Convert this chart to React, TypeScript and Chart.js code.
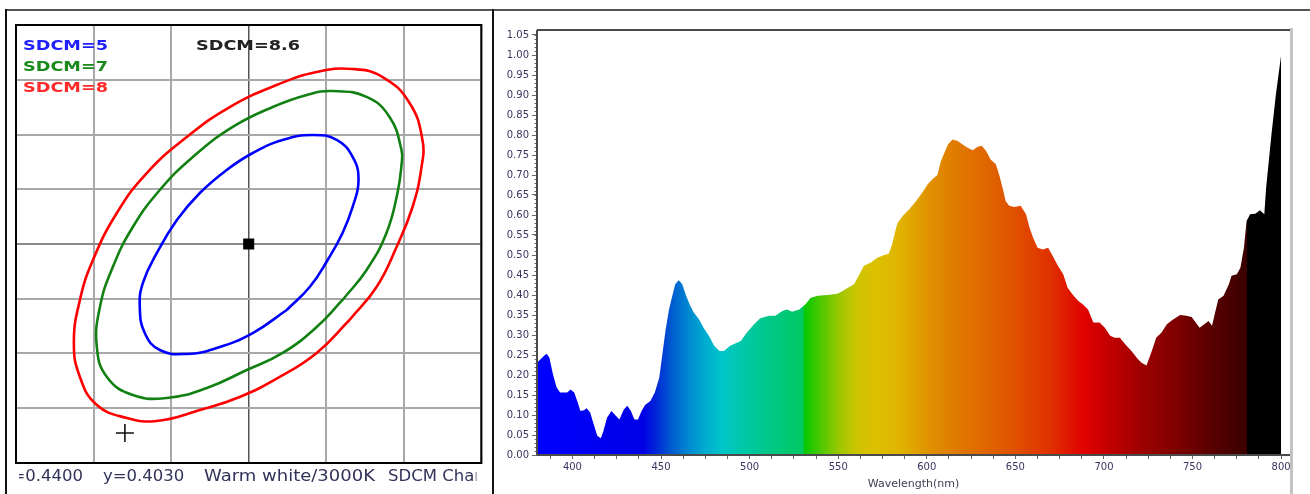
import React, { useEffect, useRef } from 'react';
import { Chart, registerables } from 'chart.js';

Chart.register(...registerables);
Chart.defaults.font.family = '"DejaVu Sans", sans-serif';

// ---------------- SDCM (MacAdam ellipse) panel ----------------
const gridX = [0.425, 0.43, 0.435, 0.44, 0.445, 0.45, 0.455];
const gridY = [0.383, 0.388, 0.393, 0.398, 0.403, 0.408, 0.413, 0.418, 0.423];
const centerX = 0.44;
const centerY = 0.403;
const measuredX = 0.43202;
const measuredY = 0.38574;

// contour points, starting on the lower-right long side
const sdcm5X = [0.44245, 0.44026, 0.43794, 0.43601, 0.43427, 0.4333, 0.43298, 0.43318, 0.43408, 0.43537, 0.43685, 0.43858, 0.44026, 0.44219, 0.44412, 0.44567, 0.4467, 0.44708, 0.4467, 0.44605, 0.44509, 0.44393, 0.44245];
const sdcm5Y = [0.39697, 0.39487, 0.3935, 0.39296, 0.39332, 0.39487, 0.39725, 0.39944, 0.40218, 0.40519, 0.40766, 0.40976, 0.41131, 0.4125, 0.41296, 0.4125, 0.41095, 0.40885, 0.40638, 0.40401, 0.40154, 0.39907, 0.39697];

const sdcm7X = [0.44605, 0.44438, 0.44219, 0.43987, 0.4373, 0.43472, 0.43253, 0.43086, 0.43021, 0.43041, 0.43124, 0.43253, 0.43427, 0.4364, 0.43897, 0.44155, 0.44374, 0.44541, 0.4476, 0.44908, 0.44985, 0.44985, 0.44959, 0.44888, 0.4476, 0.44605];
const sdcm7Y = [0.39789, 0.39542, 0.39305, 0.39149, 0.38985, 0.38894, 0.38921, 0.39086, 0.3936, 0.39725, 0.4009, 0.40455, 0.40793, 0.41095, 0.41369, 0.41551, 0.41661, 0.41697, 0.41643, 0.4146, 0.41159, 0.41022, 0.40766, 0.40401, 0.40063, 0.39789];

const sdcm8X = [0.4465, 0.44438, 0.442, 0.43942, 0.43685, 0.43408, 0.43215, 0.43021, 0.42912, 0.42873, 0.42912, 0.42996, 0.4315, 0.43343, 0.43601, 0.43878, 0.4418, 0.44438, 0.4467, 0.44863, 0.45037, 0.4512, 0.45114, 0.45056, 0.44953, 0.44824, 0.4465];
const sdcm8Y = [0.39606, 0.39305, 0.39086, 0.38903, 0.38784, 0.38684, 0.38711, 0.3883, 0.39086, 0.39396, 0.39789, 0.40154, 0.40583, 0.40948, 0.41277, 0.41551, 0.41752, 0.41871, 0.41898, 0.41825, 0.41588, 0.4125, 0.41003, 0.40638, 0.40273, 0.39907, 0.39606];

const sdcmLabels = ['SDCM=5', 'SDCM=7', 'SDCM=8'];
const measuredLabel = 'SDCM=8.6';
const infoTexts = ['x=0.4400', 'y=0.4030', 'Warm white/3000K', 'SDCM Chart'];

// ---------------- Spectrum panel ----------------
const wavelengths = [380, 381, 384, 385.5, 387, 389, 391, 393, 397, 399, 401, 403, 404.5, 406.5, 408, 410, 412, 414, 416, 417.5, 419.5, 422, 424.5, 426.5, 429, 431, 433, 435, 437, 439, 441, 444, 446.5, 449, 450.5, 452.5, 454.5, 456.5, 458, 460, 462, 464, 466.5, 468.5, 471.5, 474, 477, 480, 483, 485.5, 489, 495, 498.5, 502.5, 506, 511, 514.5, 518.5, 521, 524, 528, 531.5, 534.5, 538.5, 544, 549.5, 552.5, 555.5, 559, 562, 564.5, 568.5, 572, 576, 578.5, 580.5, 582, 583.5, 586.5, 590, 594, 597.5, 600.5, 603, 606, 608, 610, 612, 614.5, 617.5, 620, 623, 626, 628.5, 631, 633.5, 636, 639, 641, 643, 644.5, 646.5, 649.5, 653, 656, 658, 660, 662.5, 665.5, 668.5, 671, 674, 677, 679.5, 682.5, 685.5, 688, 691, 694, 697.5, 700.5, 703.5, 706, 709, 712, 715.5, 718.5, 721, 724, 727, 729.5, 732.5, 735.5, 739, 743, 746.5, 749.5, 752.5, 754, 757, 759, 761, 762.5, 764.5, 767.5, 770.5, 772, 775, 777, 779, 780.5, 782.5, 785.5, 788, 790.5, 791.5, 794.5, 797, 800];
const intensities = [0.23, 0.235, 0.248, 0.253, 0.243, 0.202, 0.17, 0.156, 0.156, 0.164, 0.156, 0.131, 0.11, 0.112, 0.117, 0.106, 0.077, 0.048, 0.042, 0.06, 0.093, 0.11, 0.098, 0.089, 0.114, 0.123, 0.11, 0.089, 0.089, 0.11, 0.125, 0.135, 0.156, 0.193, 0.243, 0.31, 0.364, 0.4, 0.427, 0.437, 0.427, 0.4, 0.373, 0.356, 0.339, 0.318, 0.298, 0.273, 0.26, 0.26, 0.273, 0.285, 0.306, 0.327, 0.342, 0.348, 0.348, 0.36, 0.364, 0.358, 0.364, 0.377, 0.393, 0.398, 0.4, 0.403, 0.41, 0.418, 0.427, 0.452, 0.473, 0.481, 0.493, 0.5, 0.503, 0.527, 0.556, 0.58, 0.598, 0.614, 0.635, 0.656, 0.677, 0.689, 0.7, 0.735, 0.756, 0.777, 0.789, 0.785, 0.777, 0.768, 0.762, 0.77, 0.773, 0.76, 0.739, 0.727, 0.698, 0.664, 0.635, 0.623, 0.62, 0.623, 0.602, 0.568, 0.543, 0.518, 0.514, 0.518, 0.498, 0.473, 0.452, 0.418, 0.4, 0.385, 0.377, 0.364, 0.331, 0.331, 0.318, 0.298, 0.293, 0.293, 0.277, 0.26, 0.243, 0.231, 0.224, 0.26, 0.293, 0.306, 0.327, 0.339, 0.35, 0.348, 0.345, 0.327, 0.318, 0.328, 0.335, 0.323, 0.352, 0.389, 0.398, 0.427, 0.448, 0.452, 0.468, 0.518, 0.585, 0.602, 0.603, 0.612, 0.602, 0.667, 0.8, 0.9, 1.0];

const xTickValues = [387.5, 400, 412.5, 425, 437.5, 450, 462.5, 475, 487.5, 500, 512.5, 525, 537.5, 550, 562.5, 575, 587.5, 600, 612.5, 625, 637.5, 650, 662.5, 675, 687.5, 700, 712.5, 725, 737.5, 750, 762.5, 775, 787.5, 800];
const yTickValues = [0, 0.05, 0.1, 0.15, 0.2, 0.25, 0.3, 0.35, 0.4, 0.45, 0.5, 0.55, 0.6, 0.65, 0.7, 0.75, 0.8, 0.85, 0.9, 0.95, 1.0, 1.05];
const xAxisTitle = 'Wavelength(nm)';

// colour of the fill along wavelength (style)
const gradNm = [380, 440, 447, 455, 465, 475, 485, 495, 510, 530, 531, 540, 550, 560, 570, 585, 600, 615, 630, 650, 670, 685, 690, 700, 720, 740, 760, 780.5, 781, 805];
const gradColors = ['#0000ff', '#0000e6', '#0026d8', '#0056d0', '#0086d0', '#00acd0', '#00c6c8', '#00c8aa', '#00c88a', '#00c862', '#08c800', '#4cc800', '#98c800', '#ccc400', '#dcc000', '#e0b400', '#e09400', '#e07c00', '#e06a00', '#e05000', '#e03000', '#e00a00', '#e00000', '#c80000', '#a00000', '#800000', '#5a0000', '#3a0000', '#000000', '#000000'];

const toPoints = (xs: number[], ys: number[]) => xs.map((x, i) => ({ x, y: ys[i] }));

function fitText(ctx: CanvasRenderingContext2D, text: string, x: number, y: number, width: number, font: string, color: string) {
  ctx.save();
  ctx.font = font;
  ctx.fillStyle = color;
  ctx.textBaseline = 'middle';
  ctx.textAlign = 'left';
  const w = ctx.measureText(text).width;
  ctx.translate(x, y);
  ctx.scale(width / w, 1);
  ctx.fillText(text, 0, 0);
  ctx.restore();
}

const sdcmOverlay = {
  id: 'sdcmOverlay',
  afterDraw(chart: any) {
    const { ctx, chartArea: a } = chart;
    ctx.save();
    ctx.strokeStyle = '#000';
    ctx.lineWidth = 2;
    ctx.strokeRect(a.left, a.top, a.right - a.left, a.bottom - a.top);
    const labelColors = ['#1e1eff', '#1a8a1a', '#ff2a2a'];
    const font = 'bold 14px "DejaVu Sans"';
    sdcmLabels.forEach((t, i) => fitText(ctx, t, a.left + 7, a.top + 21 + i * 21, 85, font, labelColors[i]));
    fitText(ctx, measuredLabel, a.left + 180, a.top + 21, 104, font, '#222');
    // info line under the box, clipped at both sides
    ctx.beginPath();
    ctx.rect(a.left + 3, a.bottom + 2, a.right - a.left - 8, 30);
    ctx.clip();
    ctx.fillStyle = '#33335a';
    ctx.font = '16.5px "DejaVu Sans"';
    ctx.textBaseline = 'middle';
    const ty = a.bottom + 14;
    ctx.textAlign = 'right';
    ctx.fillText(infoTexts[0], a.left + 67, ty);
    ctx.textAlign = 'left';
    ctx.fillText(infoTexts[1], a.left + 87, ty);
    fitText(ctx, infoTexts[2], a.left + 188, ty, 171, '16.5px "DejaVu Sans"', '#33335a');
    ctx.fillText(infoTexts[3], a.left + 372, ty);
    ctx.restore();
  },
};

function spectrumGradient(chart: any) {
  const a = chart.chartArea;
  const xs = chart.scales.x;
  if (!a || !xs) return '#0000ff';
  const x0 = xs.getPixelForValue(gradNm[0]);
  const x1 = xs.getPixelForValue(gradNm[gradNm.length - 1]);
  const g = chart.ctx.createLinearGradient(x0, 0, x1, 0);
  gradNm.forEach((nm, i) => {
    const t = (xs.getPixelForValue(nm) - x0) / (x1 - x0);
    g.addColorStop(Math.min(1, Math.max(0, t)), gradColors[i]);
  });
  return g;
}

const spectrumFrame = {
  id: 'spectrumFrame',
  afterDraw(chart: any) {
    const { ctx, chartArea: a } = chart;
    const ys = chart.scales.y;
    ctx.save();
    ctx.strokeStyle = '#6a6a6a';
    ctx.lineWidth = 1;
    for (let i = 0; i <= 105; i++) {
      const py = Math.round(ys.getPixelForValue(i / 100)) + 0.5;
      ctx.beginPath();
      ctx.moveTo(a.left - 2.5, py);
      ctx.lineTo(a.left, py);
      ctx.stroke();
    }
    ctx.strokeStyle = '#c2c2c2';
    ctx.lineWidth = 3;
    ctx.beginPath();
    ctx.moveTo(a.right + 1.5, a.top - 2);
    ctx.lineTo(a.right + 1.5, chart.height);
    ctx.stroke();
    ctx.strokeStyle = '#4a4a4a';
    ctx.lineWidth = 2;
    ctx.beginPath();
    ctx.moveTo(a.left, a.top);
    ctx.lineTo(a.right, a.top);
    ctx.stroke();
    ctx.beginPath();
    ctx.moveTo(a.left, a.top);
    ctx.lineTo(a.left, a.bottom);
    ctx.stroke();
    ctx.beginPath();
    ctx.moveTo(a.left, a.bottom);
    ctx.lineTo(a.right, a.bottom);
    ctx.stroke();
    ctx.restore();
  },
};

export default function App() {
  const leftRef = useRef<HTMLCanvasElement>(null);
  const rightRef = useRef<HTMLCanvasElement>(null);

  useEffect(() => {
    const ellipse = (label: string, xs: number[], ys: number[], color: string) => ({
      label,
      data: toPoints(xs, ys),
      showLine: true,
      borderColor: color,
      backgroundColor: color,
      borderWidth: 2.6,
      pointRadius: 0,
      tension: 0.45,
      fill: false,
    });

    const left = new Chart(leftRef.current as HTMLCanvasElement, {
      type: 'scatter',
      data: {
        datasets: [
          ellipse('SDCM=5', sdcm5X, sdcm5Y, '#0000ff'),
          ellipse('SDCM=7', sdcm7X, sdcm7Y, '#128012'),
          ellipse('SDCM=8', sdcm8X, sdcm8Y, '#ff0000'),
          {
            label: 'center',
            data: [{ x: centerX, y: centerY }],
            pointStyle: 'rect',
            pointRadius: 7.8,
            pointBackgroundColor: '#000',
            pointBorderWidth: 0,
            showLine: false,
          } as any,
          {
            label: 'measured',
            data: [{ x: measuredX, y: measuredY }],
            pointStyle: 'cross',
            pointRadius: 9,
            pointBorderColor: '#111',
            pointBorderWidth: 1.6,
            showLine: false,
          } as any,
        ],
      },
      options: {
        animation: false,
        responsive: false,
        maintainAspectRatio: false,
        layout: { padding: { left: 16, top: 25, right: 10, bottom: 31 } },
        plugins: { legend: { display: false }, tooltip: { enabled: false } },
        scales: {
          x: {
            type: 'linear',
            min: gridX[0],
            max: gridX[gridX.length - 1],
            afterBuildTicks: (s: any) => { s.ticks = gridX.map((v) => ({ value: v })); },
            afterFit: (s: any) => { s.height = 0; },
            ticks: { display: false },
            grid: {
              drawTicks: false,
              color: (c: any) => (c.tick && Math.abs(c.tick.value - centerX) < 1e-7 ? '#555' : '#a8a8a8'),
              lineWidth: (c: any) => (c.tick && Math.abs(c.tick.value - centerX) < 1e-7 ? 1.5 : 2),
            },
            border: { display: false },
          },
          y: {
            type: 'linear',
            min: gridY[0],
            max: gridY[gridY.length - 1],
            afterBuildTicks: (s: any) => { s.ticks = gridY.map((v) => ({ value: v })); },
            afterFit: (s: any) => { s.width = 0; },
            ticks: { display: false },
            grid: {
              drawTicks: false,
              color: (c: any) => (c.tick && Math.abs(c.tick.value - centerY) < 1e-7 ? '#8a8a8a' : '#a8a8a8'),
              lineWidth: 2,
            },
            border: { display: false },
          },
        },
      },
      plugins: [sdcmOverlay],
    });

    const tickFont = { family: 'DejaVu Sans', size: 10 };
    const right = new Chart(rightRef.current as HTMLCanvasElement, {
      type: 'scatter',
      data: {
        datasets: [
          {
            label: 'Spectrum',
            data: toPoints(wavelengths, intensities),
            showLine: true,
            fill: 'origin',
            borderWidth: 0,
            borderColor: 'rgba(0,0,0,0)',
            pointRadius: 0,
            tension: 0,
            backgroundColor: (c: any) => spectrumGradient(c.chart),
          } as any,
        ],
      },
      options: {
        animation: false,
        responsive: false,
        maintainAspectRatio: false,
        layout: { padding: { left: 0, top: 30, right: 20, bottom: 0 } },
        plugins: { legend: { display: false }, tooltip: { enabled: false } },
        scales: {
          x: {
            type: 'linear',
            min: 380,
            max: 805,
            afterBuildTicks: (s: any) => { s.ticks = xTickValues.map((v) => ({ value: v })); },
            afterFit: (s: any) => { s.height = 39; },
            ticks: {
              autoSkip: false,
              maxRotation: 0,
              padding: 2,
              color: '#3c3460',
              font: tickFont,
              callback: (v: any) => (Number(v) % 50 === 0 ? String(v) : ''),
            },
            grid: { drawOnChartArea: false, drawTicks: true, tickLength: 4, color: '#666', lineWidth: 1 },
            border: { display: false },
            title: {
              display: true,
              text: xAxisTitle,
              color: '#404058',
              font: { family: 'DejaVu Sans', size: 11 },
              padding: { top: 0, bottom: 3 },
            },
          },
          y: {
            type: 'linear',
            min: 0,
            max: 1.0625,
            afterBuildTicks: (s: any) => { s.ticks = yTickValues.map((v) => ({ value: v })); },
            afterFit: (s: any) => { s.width = 42; },
            ticks: {
              autoSkip: false,
              padding: 3,
              color: '#3c3460',
              font: tickFont,
              callback: (v: any) => Number(v).toFixed(2),
            },
            grid: { drawOnChartArea: false, drawTicks: true, tickLength: 5, color: '#666', lineWidth: 1 },
            border: { display: false },
          },
        },
      },
      plugins: [spectrumFrame],
    });

    return () => {
      left.destroy();
      right.destroy();
    };
  }, []);

  return (
    <div style={{ position: 'fixed', left: 0, top: 0, width: 1310, height: 494, background: '#fff', overflow: 'hidden' }}>
      <canvas ref={leftRef} width={492} height={494} style={{ position: 'absolute', left: 0, top: 0, width: 492, height: 494 }} />
      <canvas ref={rightRef} width={815} height={494} style={{ position: 'absolute', left: 495, top: 0, width: 815, height: 494 }} />
      <div style={{ position: 'absolute', left: 5, top: 9, width: 1305, height: 2, background: '#555' }} />
      <div style={{ position: 'absolute', left: 5, top: 9, width: 2, height: 485, background: '#111' }} />
      <div style={{ position: 'absolute', left: 492, top: 9, width: 2, height: 485, background: '#111' }} />
    </div>
  );
}
